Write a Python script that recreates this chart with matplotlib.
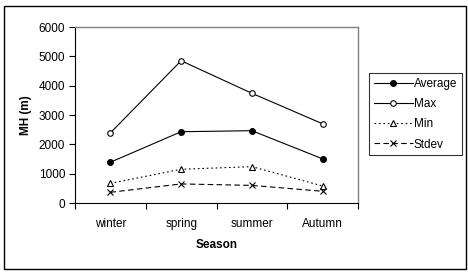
import matplotlib
matplotlib.use("Agg")
import matplotlib.pyplot as plt
from matplotlib.patches import Rectangle

categories = ["winter", "spring", "summer", "Autumn"]
average = [1390, 2430, 2465, 1505]
maximum = [2390, 4850, 3740, 2700]
minimum = [670, 1150, 1240, 580]
stdev = [365, 650, 600, 400]
yticks = [0, 1000, 2000, 3000, 4000, 5000, 6000]

plt.rcParams['font.family'] = ['Liberation Sans', 'DejaVu Sans']
fs = 8.5

fig = plt.figure(figsize=(4.68, 2.75), dpi=100)
fig.patch.set_facecolor("white")
ax = fig.add_axes([75/468, 72/275, 283/468, 176/275])

x = list(range(len(categories)))
lw = 0.8
ax.plot(x, average, color="black", lw=lw, marker="o", ms=4, mfc="black", mec="black", label="Average")
ax.plot(x, maximum, color="black", lw=lw, marker="o", ms=4, mfc="white", mec="black", mew=0.8, label="Max")
ax.plot(x, minimum, color="black", lw=lw, ls=(0, (1.5, 2.5)), marker="^", ms=4, mfc="white", mec="black", mew=0.8, label="Min")
ax.plot(x, stdev, color="black", lw=lw, ls=(0, (5, 3)), marker="x", ms=4, mec="black", mew=0.8, label="Stdev")

ax.set_xlim(-0.5, len(categories) - 0.5)
ax.set_ylim(0, 6000)
ax.set_yticks(yticks)
ax.set_yticklabels([str(v) for v in yticks], fontsize=fs)
ax.set_xticks([i - 0.5 for i in range(len(categories) + 1)])
ax.set_xticklabels([])
ax.set_xticks(x, minor=True)
ax.set_xticklabels(categories, minor=True, fontsize=fs)
ax.tick_params(axis="x", which="minor", length=0, pad=11)
ax.tick_params(axis="x", which="major", length=4, width=0.8, direction="out")
ax.tick_params(axis="y", length=4, width=0.8, direction="out", pad=3)

for s in ["top", "right"]:
    ax.spines[s].set_color("#808080")
    ax.spines[s].set_linewidth(1)
for s in ["left", "bottom"]:
    ax.spines[s].set_color("black")
    ax.spines[s].set_linewidth(0.8)

ax.set_ylabel("MH (m)", fontsize=fs, fontweight="bold", labelpad=5)
ax.set_xlabel("Season", fontsize=fs, fontweight="bold", labelpad=6)

leg = fig.legend(loc="upper left", bbox_to_anchor=(369/468, (275-73)/275), fontsize=fs,
                 frameon=True, fancybox=False, edgecolor="black", handlelength=3.3,
                 handletextpad=0.1, borderpad=0.4, labelspacing=0.7, borderaxespad=0)
leg.get_frame().set_linewidth(0.8)

fig.patches.append(Rectangle((4/468, 6/275), 462/468, 263/275, transform=fig.transFigure,
                             fill=False, edgecolor="black", lw=1))

fig.savefig("out.png", dpi=100, facecolor="white")
